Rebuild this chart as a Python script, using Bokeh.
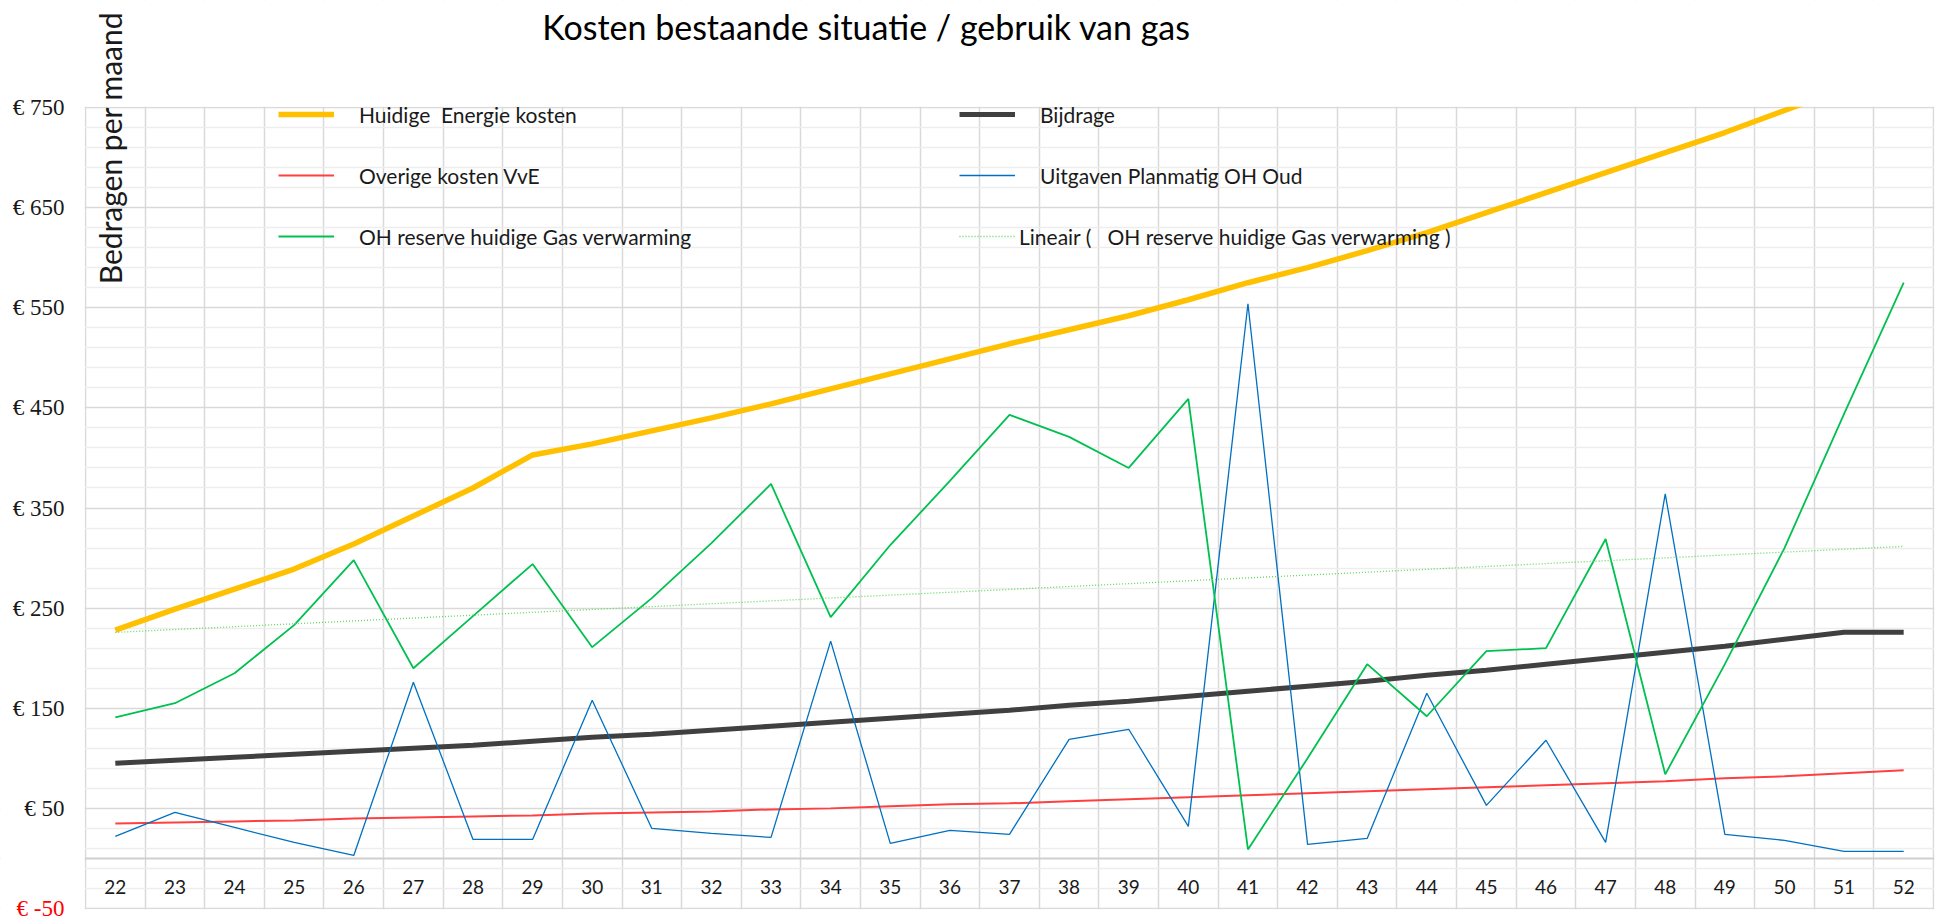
import numpy as np
from bokeh.plotting import figure
from bokeh.models import (Range1d, FixedTicker, Legend, LegendItem, Label, LabelSet, Span,
                          BoxAnnotation, ColumnDataSource)
from bokeh.embed import file_html
from bokeh.resources import INLINE
from bokeh.core.properties import value

# ---------------- data ----------------
years = list(range(22, 53))
year_labels = [str(y) for y in years]

energie = [228, 249, 269, 289, 314, 342, 370, 403, 414, 427, 440, 454, 469, 484, 499, 514,
           528, 542, 558, 575, 590, 607, 625, 645, 665, 685, 705, 725, 747, 769, 792]
bijdrage = [95, 98, 101, 104, 107, 110, 113, 117, 121, 124, 128, 132, 136, 140, 144, 148,
            153, 157, 162, 167, 172, 177, 183, 188, 194, 200, 206, 212, 219, 226, 226]
overige = [35, 36, 37, 38, 40, 41, 42, 43, 45, 46, 47, 49, 50, 52, 54, 55,
           57, 59, 61, 63, 65, 67, 69, 71, 73, 75, 77, 80, 82, 85, 88]
uitgaven = [22, 46, 31, 16, 3, 176, 19, 19, 158, 30, 25, 21, 217, 15, 28, 24,
            119, 129, 32, 554, 14, 20, 165, 53, 118, 16, 364, 24, 18, 7, 7]
oh_reserve = [141, 155, 185, 233, 298, 190, 242, 294, 211, 260, 315, 374, 241, 313, 377, 443,
              421, 390, 459, 9, 100, 194, 142, 207, 210, 319, 84, 194, 310, 444, 575]

y_ticks = [-50, 50, 150, 250, 350, 450, 550, 650, 750]
y_tick_labels = ["€ -50", "€ 50", "€ 150", "€ 250", "€ 350", "€ 450", "€ 550", "€ 650", "€ 750"]

title_text = "Kosten bestaande situatie / gebruik van gas"
y_title = "Bedragen per maand"
names = ["Huidige  Energie kosten", "Bijdrage", "Overige kosten VvE",
         "Uitgaven Planmatig OH Oud", "OH reserve huidige Gas verwarming",
         "Lineair (   OH reserve huidige Gas verwarming )"]

# linear trendline of the OH reserve series (as Excel computes it)
slope, icept = np.polyfit(years, oh_reserve, 1)
trend = [slope * y + icept for y in years]

# ---------------- layout (pixels of the page) ----------------
W, H = 1944, 920
FL, FR, FT, FB = 85, 1933, 107, 908          # plot area edges
x0, x1 = years[0] - 0.5, years[-1] + 0.5
ymin, ymax = y_ticks[0], y_ticks[-1]
px_x = (FR - FL) / (x1 - x0)
px_y = (FB - FT) / (ymax - ymin)
xs, xe = x0 - FL / px_x, x1 + (W - FR) / px_x
ys, ye = ymin - (H - FB) / px_y, ymax + FT / px_y

p = figure(width=W, height=H, x_range=Range1d(xs, xe), y_range=Range1d(ys, ye),
           output_backend="svg", toolbar_location=None, title=None,
           x_axis_location=None, y_axis_location=None, min_border=0)
p.background_fill_color = "white"
p.border_fill_color = "white"
p.outline_line_color = None

FONT = "Lato"
TXT = "#1a1a1a"
GRID = "#D9D9D9"

# grids
minor = [m for m in range(ymin, ymax + 1, 20) if (m - ymin) % 100 != 0]
p.ygrid.ticker = FixedTicker(ticks=y_ticks, minor_ticks=minor)
p.ygrid.grid_line_color = GRID
p.ygrid.grid_line_width = 1.5
p.ygrid.minor_grid_line_color = "#EDEDED"
p.ygrid.minor_grid_line_width = 1.5
p.xgrid.ticker = FixedTicker(ticks=[y - 0.5 for y in years] + [years[-1] + 0.5])
p.xgrid.grid_line_color = GRID
p.xgrid.grid_line_width = 1.5

p.add_layout(Span(location=0, dimension="width", line_color="#D0D0D0", line_width=2))

# series
r_en = p.line(years, energie, line_color="#FFC000", line_width=5.5)
r_bij = p.line(years, bijdrage, line_color="#404040", line_width=5)
r_ov = p.line(years, overige, line_color="#FF4040", line_width=2)
r_uit = p.line(years, uitgaven, line_color="#0070C0", line_width=1.3)
r_oh = p.line(years, oh_reserve, line_color="#00C050", line_width=1.8)
r_tr = p.line(years, trend, line_color="#5CD65C", line_width=1.3, line_dash="1 2")

# category labels inside the plot, below the zero line
src = ColumnDataSource(dict(x=years, t=year_labels))
p.text(x="x", y=-29, text="t", source=src, text_font=value(FONT), text_font_size=value("19px"),
       text_color=TXT, text_align="center", text_baseline="middle")

# white masks outside the plot area (clip gridlines and the line leaving the top)
ex, ey = 0.8 / px_x, 0.8 / px_y
for kw in (dict(bottom=ymax + ey), dict(top=ymin - ey), dict(right=x0 - ex), dict(left=x1 + ex)):
    p.add_layout(BoxAnnotation(fill_color="white", fill_alpha=1, line_color=None, **kw))

# y tick labels (the -50 one in red)
tick_colors = ["#FF0000" if t < 0 else TXT for t in y_ticks]
tsrc = ColumnDataSource(dict(y=y_ticks, t=y_tick_labels, c=tick_colors))
p.add_layout(LabelSet(x=x0, y="y", text="t", source=tsrc, x_offset=-21, text_color="c",
                      text_font=FONT, text_font_size="23px", text_align="right",
                      text_baseline="middle"))

# legends
def mk_legend(items, loc, standoff):
    lg = Legend(items=items, location=loc, orientation="vertical",
                label_text_font=FONT, label_text_font_size="21px", label_text_color=TXT,
                glyph_width=56, glyph_height=30, label_height=30, label_standoff=standoff,
                spacing=31, padding=0, margin=0, border_line_color=None,
                background_fill_alpha=0)
    p.add_layout(lg)
    return lg

mk_legend([LegendItem(label=names[0], renderers=[r_en]),
           LegendItem(label=names[2], renderers=[r_ov]),
           LegendItem(label=names[4], renderers=[r_oh])], (278, H - 251), 25)
mk_legend([LegendItem(label=names[1], renderers=[r_bij]),
           LegendItem(label=names[3], renderers=[r_uit])], (959, H - 190), 25)
mk_legend([LegendItem(label=names[5], renderers=[r_tr])], (959, H - 251), 4)

# title and rotated value-axis title
p.add_layout(Label(x=x0 + (866 - FL) / px_x, y=ymax + (FT - 26) / px_y, text=title_text,
                   text_font=FONT, text_font_size="34px", text_color="black",
                   text_align="center", text_baseline="alphabetic"))
p.add_layout(Label(x=x0 + (109 - FL) / px_x, y=ymax + (FT - 147.5) / px_y, text=y_title,
                   angle=np.pi / 2, text_font=FONT, text_font_size="30px", text_color=TXT,
                   text_align="center", text_baseline="alphabetic"))

open("out.html", "w").write(file_html(p, INLINE))
